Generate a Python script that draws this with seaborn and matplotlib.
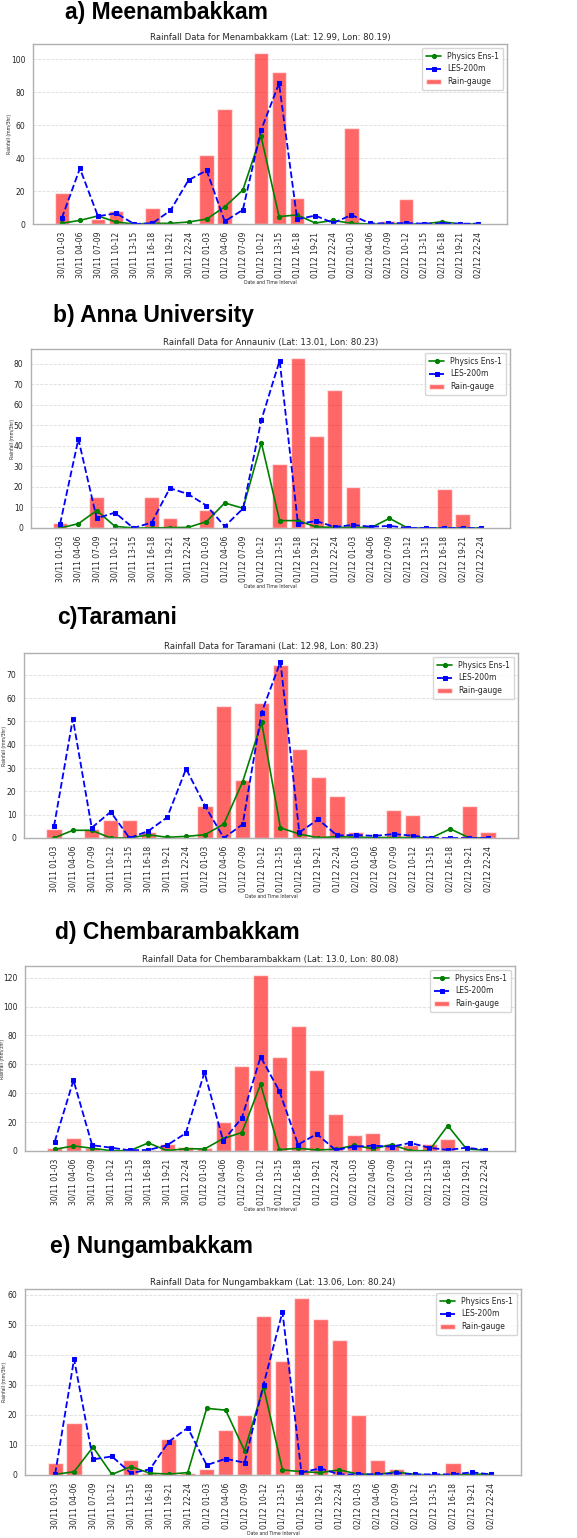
import numpy as np
import pandas as pd
import matplotlib
matplotlib.use('Agg')
import matplotlib.pyplot as plt
import seaborn as sns

# time intervals (3-hourly) on the x axis
intervals = ['30/11 01-03', '30/11 04-06', '30/11 07-09', '30/11 10-12',
             '30/11 13-15', '30/11 16-18', '30/11 19-21', '30/11 22-24',
             '01/12 01-03', '01/12 04-06', '01/12 07-09', '01/12 10-12',
             '01/12 13-15', '01/12 16-18', '01/12 19-21', '01/12 22-24',
             '02/12 01-03', '02/12 04-06', '02/12 07-09', '02/12 10-12',
             '02/12 13-15', '02/12 16-18', '02/12 19-21', '02/12 22-24']

# a) Meenambakkam
gauge_mee = [19, 0, 3, 8, 0, 10, 0, 0, 42, 70, 0, 104, 92, 16, 0, 0, 58, 0, 2, 15, 0, 0, 0, 0]
phys_mee = [0.4, 2.2, 4.9, 1.2, 0, 0.4, 0.4, 1.2, 3, 10.4, 20.6, 53.5, 4.5, 5.5, 0.6, 2.2, 0.4, 0, 0, 0, 0, 1.4, 0, 0]
les_mee = [3.5, 33.7, 4.7, 6.5, 0, 0.4, 8.2, 26.6, 32.5, 1.6, 8.6, 56.8, 85.3, 2.9, 5.1, 0.6, 5.5, 0.4, 0.4, 0.6, 0.2, 0.3, 0.2, 0.2]

# b) Anna University
gauge_anna = [2.6, 0, 15, 0, 0, 14.9, 4.7, 0, 8.7, 0, 0, 0, 31, 83, 45, 67, 20, 0, 0, 0, 0, 18.8, 6.9, 0]
phys_anna = [0, 2.1, 8.5, 0.8, 0, 0, 0.2, 0.3, 3.1, 12.2, 9.6, 41.5, 3.6, 3.6, 0.5, 0.3, 0.3, 0.2, 4.7, 0, 0, 0, 0, 0]
les_anna = [2, 43.3, 4.7, 7.5, 0, 2.6, 19.4, 16.5, 10.9, 0.8, 9.5, 52.6, 81.5, 2.0, 3.4, 0.5, 1.5, 0.6, 1.0, 0, 0, 0, 0, 0]

# c) Taramani
gauge_tara = [3.7, 0, 3.7, 7.7, 7.7, 2.6, 0.4, 0.4, 13.8, 56.8, 25, 58.1, 74.2, 38, 26, 18.1, 2.6, 0.4, 11.8, 9.8, 0, 0, 13.9, 2.6]
phys_tara = [0, 3.3, 3.3, 0, 0, 1.4, 0.3, 0.7, 1.4, 6, 24.2, 49.6, 4.4, 1.7, 0.1, 0.6, 0.3, 0.2, 0.2, 0.2, 0.1, 3.9, 0.1, 0]
les_tara = [5, 51.2, 4.4, 11.2, 0, 3, 8.9, 29.7, 13.8, 0, 5.9, 53.8, 75.6, 2.4, 8, 1.1, 1.3, 0.9, 1.7, 1, 0, 0, 0, 0]

# d) Chembarambakkam
gauge_chem = [2, 9, 2, 0, 0, 0.5, 5.1, 3, 2, 20, 59, 122, 65.2, 86.3, 56, 25.3, 11.1, 12.3, 4.9, 4, 5.1, 8.1, 0, 0]
phys_chem = [1.2, 3.5, 1.9, 0.2, 0.2, 5.6, 0.2, 1.6, 1.4, 8.6, 12.8, 46.2, 0.9, 1.9, 0.7, 1.2, 3.9, 1.6, 4.4, 0.2, 0.2, 17.6, 1.4, 0.5]
les_chem = [6.5, 49, 4, 2.3, 0.5, 0.7, 4, 12.3, 54.5, 7, 23, 65.2, 41.5, 4.4, 11.8, 0.7, 3, 3.7, 3, 5.6, 2.3, 0.7, 2.3, 0.7]

# e) Nungambakkam
gauge_nung = [4.1, 17.2, 0, 0, 5, 0.6, 12.1, 0.6, 2.1, 15, 20.1, 53.1, 38, 59, 51.9, 45, 20.1, 5, 2.1, 0, 0, 4.1, 0, 0]
phys_nung = [0.2, 1.1, 9.3, 0.2, 2.8, 0.6, 0.3, 0.8, 22.2, 21.6, 8.1, 29.4, 1.7, 1.1, 0.8, 1.7, 0.3, 0.2, 1, 0.2, 0, 0, 0.3, 0.2]
les_nung = [0.3, 38.6, 5.2, 6.2, 0.6, 1.9, 11.1, 15.7, 3.3, 5.4, 4.1, 30.1, 54.3, 0.9, 2.2, 0.2, 0.2, 0.2, 0.6, 0.2, 0.2, 0.2, 0.9, 0.2]

headings = ['a) Meenambakkam', 'b) Anna University', 'c)Taramani',
            'd) Chembarambakkam', 'e) Nungambakkam']
titles = ['Rainfall Data for Menambakkam (Lat: 12.99, Lon: 80.19)',
          'Rainfall Data for Annauniv (Lat: 13.01, Lon: 80.23)',
          'Rainfall Data for Taramani (Lat: 12.98, Lon: 80.23)',
          'Rainfall Data for Chembarambakkam (Lat: 13.0, Lon: 80.08)',
          'Rainfall Data for Nungambakkam (Lat: 13.06, Lon: 80.24)']
stations = [(gauge_mee, phys_mee, les_mee),
            (gauge_anna, phys_anna, les_anna),
            (gauge_tara, phys_tara, les_tara),
            (gauge_chem, phys_chem, les_chem),
            (gauge_nung, phys_nung, les_nung)]

sns.set_style("whitegrid")
plt.rcParams['font.family'] = ['DejaVu Sans']

W, H = 577, 1538
fig = plt.figure(figsize=(W / 100, H / 100), dpi=100)

# pixel boxes of each panel: (left, top, right, bottom), heading (x, baseline)
# and x pixel of the y label's right edge
boxes = [(33, 44, 507, 224), (31, 349, 510, 528), (24, 653, 518, 838),
         (25, 966, 515, 1151), (25, 1289, 521, 1475)]
head_pos = [(65, 19), (53, 322), (57, 624), (55, 939), (50, 1253)]
ylab_x = [12, 15, 7, 5, 7]

pos = np.arange(len(intervals))

for i, (gauge, phys, les) in enumerate(stations):
    l, t, r, b = boxes[i]
    ax = fig.add_axes([l / W, 1 - b / H, (r - l) / W, (b - t) / H])

    df = pd.DataFrame({'interval': intervals, 'gauge': gauge,
                       'phys': phys, 'les': les})

    sns.barplot(data=df, x='interval', y='gauge', color='red', alpha=0.6,
                saturation=1, width=0.8, ax=ax)
    sns.lineplot(x=pos, y=df['phys'], color='green', marker='o',
                 markersize=3, mec='green', linewidth=1.2,
                 label='Physics Ens-1', ax=ax)
    sns.lineplot(x=pos, y=df['les'], color='blue', marker='s',
                 markersize=3.2, mec='blue', linewidth=1.3, linestyle='--',
                 label='LES-200m', ax=ax)

    ax.autoscale(axis='x')
    ax.set_ylim(bottom=0)
    ax.autoscale(axis='y')
    ax.set_ylim(bottom=0)

    ax.xaxis.grid(False)
    ax.yaxis.grid(True, linestyle='--', color='#dddddd', linewidth=0.6)
    for s in ax.spines.values():
        s.set_color('#b0b0b0')
        s.set_linewidth(1.0)

    ax.set_xticks(pos)
    ax.set_xticklabels(intervals, rotation=90, fontsize=5.5)
    ax.tick_params(axis='y', labelsize=5.5, pad=2)
    ax.tick_params(axis='x', pad=2)
    ax.set_xlabel('Date and Time Interval', fontsize=3.3, labelpad=1)
    ax.set_ylabel('Rainfall (mm/3hr)', fontsize=3.3)
    ax.yaxis.set_label_coords((ylab_x[i] - l) / (r - l), 0.5)
    ax.set_title(titles[i], fontsize=6.1, pad=3)

    # legend: lines first, then the rain-gauge bars
    h, lab = ax.get_legend_handles_labels()
    handles = [h[lab.index('Physics Ens-1')], h[lab.index('LES-200m')],
               ax.patches[0]]
    ax.legend(handles, ['Physics Ens-1', 'LES-200m', 'Rain-gauge'],
              loc='upper right', fontsize=5.5, frameon=True,
              handlelength=2.0, borderpad=0.5, labelspacing=0.5)

    hx, hy = head_pos[i]
    fig.text(hx / W, 1 - hy / H, headings[i], fontsize=16.5, color='black',
             fontweight='bold', family=['Liberation Sans', 'DejaVu Sans'],
             va='baseline', ha='left')

plt.savefig('out.png', dpi=100)
